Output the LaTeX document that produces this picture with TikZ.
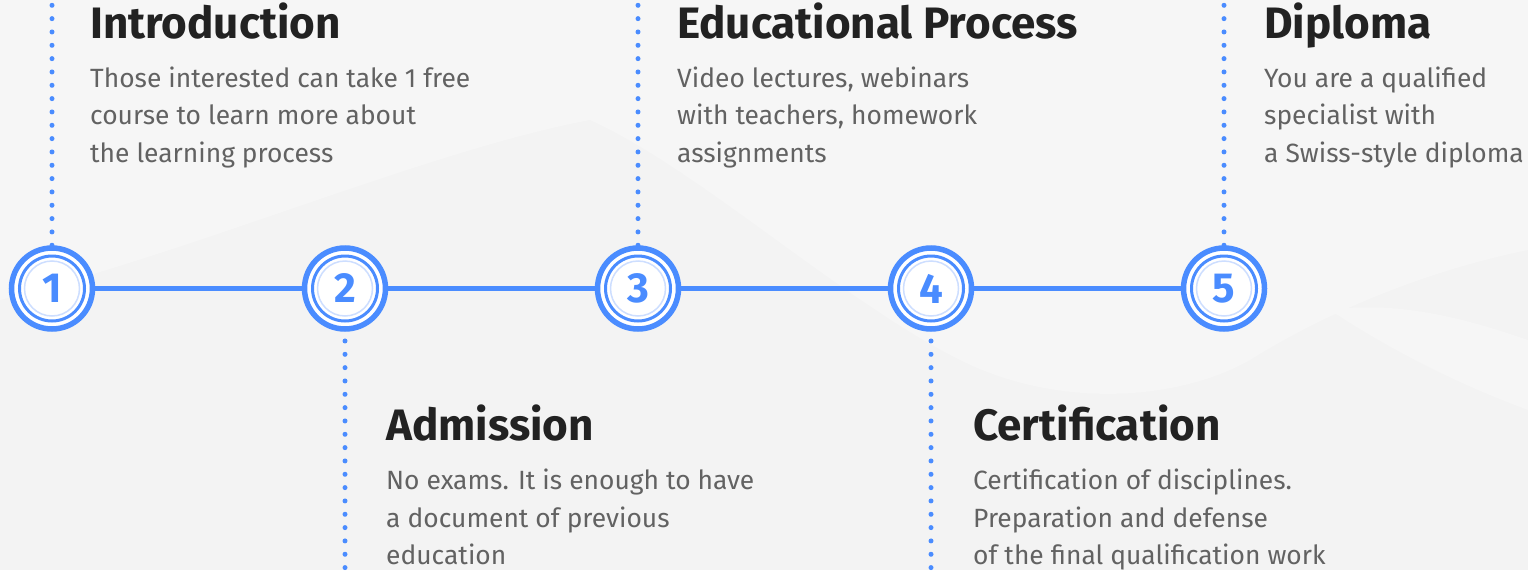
\documentclass[tikz,border=0pt]{standalone}
\usepackage{fontspec}
\setmainfont{Fira Sans}
\usetikzlibrary{backgrounds}
\definecolor{blu}{RGB}{74,140,255}
\definecolor{lblu}{RGB}{205,222,255}
\definecolor{ttl}{RGB}{34,34,34}
\definecolor{bdy}{RGB}{98,98,98}
\definecolor{bgd}{RGB}{243,243,243}
\definecolor{bgl}{RGB}{246,246,246}
\begin{document}
\begin{tikzpicture}[x=1pt,y=-1pt,
  stepcircle/.style={circle, draw=blu, line width=5.5pt, fill=white, minimum size=81pt, inner sep=0pt,
    font=\fontsize{42}{42}\selectfont\bfseries, text=blu},
  ttlnode/.style={anchor=base west, inner sep=0pt, font=\fontsize{44}{52}\selectfont\bfseries, text=ttl},
  bdynode/.style={anchor=base west, inner sep=0pt, font=\fontsize{26.4}{32}\selectfont, text=bdy},
  dotline/.style={blu, line width=5pt, line cap=round, dash pattern=on 0pt off 13.33pt},
  dotdown/.style={dotline, dash phase=4.1pt},
  link/.style={blu, line width=4.5pt},
  ringa/.style={blu, line width=3pt},
  ringb/.style={lblu, line width=1.5pt}]
\useasboundingbox (0,0) rectangle (1528,570);
% step circles
\foreach \i/\x in {1/52,2/345,3/638,4/931,5/1224}{
  \node[stepcircle] (c\i) at (\x,288.5) {\i};
  \draw[ringa] (c\i.center) circle (32.5);
  \draw[ringb] (c\i.center) circle (27.5);
}
% free ends of dotted lines
\coordinate (t1) at (52,0);
\coordinate (t3) at (638,0);
\coordinate (t5) at (1224,0);
\coordinate (b2) at (345,572);
\coordinate (b4) at (931,572);
\begin{scope}[on background layer]
  \fill[bgd] (0,0) rectangle (1528,570);
  \fill[bgl] (0,0) -- (1528,0) -- (1528,250)
     .. controls (1430,270) and (1330,310) .. (1250,360)
     .. controls (1180,400) and (1060,410) .. (960,360)
     .. controls (840,300) and (700,170) .. (590,120)
     .. controls (430,150) and (200,250) .. (0,300) -- cycle;
  \fill[bgl] (1528,410) .. controls (1460,385) and (1390,350) .. (1330,310)
     .. controls (1400,300) and (1470,320) .. (1528,340) -- cycle;
  \draw[dotline] (c1.north) -- (t1);
  \draw[dotline] (c3.north) -- (t3);
  \draw[dotline] (c5.north) -- (t5);
  \draw[dotdown] (c2.south) -- (b2);
  \draw[dotdown] (c4.south) -- (b4);
  \draw[link] (c1) -- (c2);
  \draw[link] (c2) -- (c3);
  \draw[link] (c3) -- (c4);
  \draw[link] (c4) -- (c5);
\end{scope}
% texts
\node[ttlnode] (h1) at (90,38) {Introduction};
\node[bdynode] (p1a) at (90,87) {Those interested can take 1 free};
\node[bdynode] (p1b) at (90,124.5) {course to learn more about};
\node[bdynode] (p1c) at (90,162) {the learning process};
\node[ttlnode] (h3) at (677,38) {Educational Process};
\node[bdynode] (p3a) at (677,87) {Video lectures, webinars};
\node[bdynode] (p3b) at (677,124.5) {with teachers, homework};
\node[bdynode] (p3c) at (677,162) {assignments};
\node[ttlnode] (h5) at (1264,38) {Diploma};
\node[bdynode] (p5a) at (1264,87) {You are a qualified};
\node[bdynode] (p5b) at (1264,124.5) {specialist with};
\node[bdynode] (p5c) at (1264,162) {a Swiss-style diploma};
\node[ttlnode] (h2) at (386,440) {Admission};
\node[bdynode] (p2a) at (386,489.5) {No exams. It is enough to have};
\node[bdynode] (p2b) at (386,527) {a document of previous};
\node[bdynode] (p2c) at (386,564.5) {education};
\node[ttlnode] (h4) at (973,440) {Certification};
\node[bdynode] (p4a) at (973,489.5) {Certification of disciplines.};
\node[bdynode] (p4b) at (973,527) {Preparation and defense};
\node[bdynode] (p4c) at (973,564.5) {of the final qualification work};
\end{tikzpicture}
\end{document}
